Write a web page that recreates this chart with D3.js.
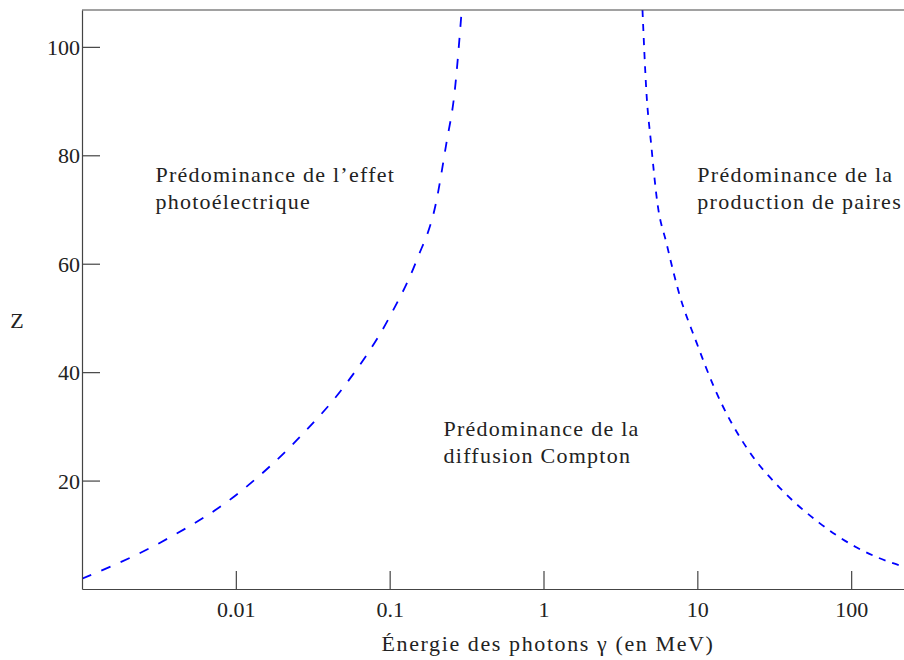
<!DOCTYPE html>
<html><head><meta charset="utf-8">
<script src="https://cdn.jsdelivr.net/npm/d3@7"></script>
<style>body{margin:0;background:#fff}svg{display:block}text{font-family:"Liberation Serif","Times New Roman",serif;fill:#222}</style>
</head><body>
<svg id="c" width="904" height="660"></svg>
<script>
// Photoelectric / Compton boundary: energy (MeV) and Z
const photoE = [0.001, 0.0032, 0.01, 0.026, 0.0526, 0.1, 0.15, 0.20, 0.234, 0.264, 0.294];
const photoZ = [1.9, 8.5, 17.3, 28, 38, 50.2, 60.7, 71.2, 82.3, 91.5, 106.8];
// Compton / pair production boundary
const pairE = [4.4, 4.67, 5.0, 5.5, 6.3, 7.6, 9.9, 12.9, 21.8, 34, 62, 108, 205, 230];
const pairZ = [106.8, 91.5, 82.3, 71.2, 63.8, 54.6, 45.4, 37.1, 25.3, 18.8, 12.2, 7.7, 4.4, 4.0];
const xTicks = [0.01, 0.1, 1, 10, 100];
const xTickLabels = ["0.01", "0.1", "1", "10", "100"];
const yTicks = [20, 40, 60, 80, 100];
const regionLabels = [
  {E: 0.003, Z: 75, lines: ["Prédominance de l’effet", "photoélectrique"]},
  {E: 0.224, Z: 28.2, lines: ["Prédominance de la", "diffusion Compton"]},
  {E: 10, Z: 75, lines: ["Prédominance de la", "production de paires"]}
];
const xTitle = "Énergie des photons γ (en MeV)";
const yTitle = "Z";

const svg = d3.select("#c");
const L = 82, T = 10, B = 589, R = 1005;
const x = d3.scaleLog().domain([0.001, 1000]).range([L, R]);
const y = d3.scaleLinear().domain([0, 106.8]).range([B, T]);

svg.append("clipPath").attr("id","pc").append("rect")
  .attr("x", L).attr("y", T).attr("width", R - L).attr("height", B - T);

const line = d3.line().x(d => x(d[0])).y(d => y(d[1])).curve(d3.curveMonotoneX);
const g = svg.append("g").attr("clip-path","url(#pc)");
g.append("path").datum(d3.zip(photoE, photoZ)).attr("d", line)
  .attr("fill","none").attr("stroke","#0000ff").attr("stroke-width",1.8).attr("stroke-dasharray","10,11");
g.append("path").datum(d3.zip(pairE, pairZ)).attr("d", line)
  .attr("fill","none").attr("stroke","#0000ff").attr("stroke-width",1.8).attr("stroke-dasharray","7,7");

// axes
const ax = "#444";
const xAxis = d3.axisBottom(x).tickValues(xTicks).tickFormat((d,i) => xTickLabels[i]).tickSizeInner(-18).tickSizeOuter(0).tickPadding(12);
const gx = svg.append("g").attr("transform", `translate(0,${B})`).call(xAxis);
const yAxis = d3.axisLeft(y).tickValues(yTicks).tickSizeInner(-18).tickSizeOuter(0).tickPadding(2);
const gy = svg.append("g").attr("transform", `translate(${L},0)`).call(yAxis);
[gx, gy].forEach(a => {
  a.select(".domain").attr("stroke", ax).attr("stroke-width", 1.2);
  a.selectAll(".tick line").attr("stroke", ax).attr("stroke-width", 1.2);
  a.selectAll(".tick text").style("font-family", '"Liberation Serif",serif').style("font-size","22px").attr("fill","#222");
});
gy.selectAll(".tick text").attr("dy","0.34em");
// top border
svg.append("line").attr("x1", L).attr("x2", R).attr("y1", T).attr("y2", T).attr("stroke", ax).attr("stroke-width", 1.2);

// region labels
regionLabels.forEach(r => {
  const t = svg.append("text").attr("x", x(r.E)).attr("y", y(r.Z)).style("font-size","22px").style("letter-spacing","1.25px");
  r.lines.forEach((s,i) => t.append("tspan").attr("x", x(r.E)).attr("dy", i ? 27 : 0).text(s));
});

svg.append("text").attr("x", 548).attr("y", 651).attr("text-anchor","middle").style("font-size","22px").style("letter-spacing","1.6px").text(xTitle);
svg.append("text").attr("x", 17).attr("y", 328).attr("text-anchor","middle").style("font-size","22px").text(yTitle);
</script>
</body></html>
